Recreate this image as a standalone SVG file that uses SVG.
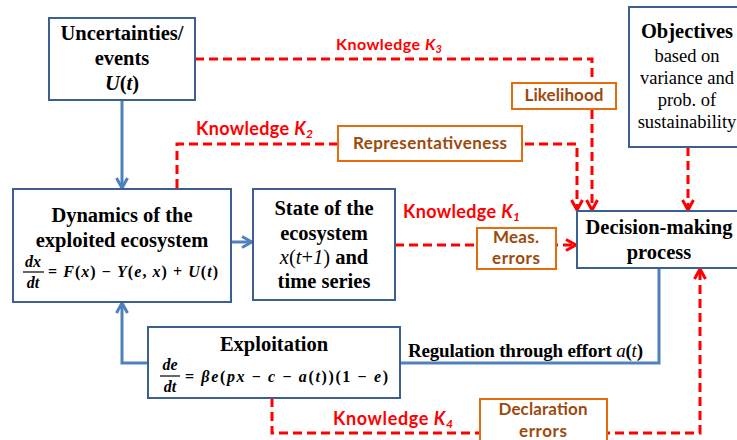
<svg xmlns="http://www.w3.org/2000/svg" width="737" height="440" viewBox="0 0 737 440">
<style>
.box{fill:#fff;stroke:#3B6090;stroke-width:2}
.obox{fill:#fff;stroke:#E46C0A;stroke-width:2}
.tb{font-family:'Liberation Serif','Times New Roman',serif;font-weight:bold;font-size:20.5px;fill:#000;text-anchor:middle}
.tr{font-family:'Liberation Serif','Times New Roman',serif;font-size:18.5px;fill:#000;text-anchor:middle}
.eq{font-family:'Liberation Serif','Times New Roman',serif;font-weight:bold;font-size:16px;fill:#000}
.reg{font-family:'Liberation Serif','Times New Roman',serif;font-weight:bold;font-size:19px;fill:#000}
.ot{font-family:Lato,'Liberation Sans',sans-serif;font-weight:bold;font-size:17px;fill:#9C4A0C;text-anchor:middle}
.kl{font-family:Lato,'Liberation Sans',sans-serif;font-weight:bold;font-size:18px;fill:#FF0000}
.kls{font-family:Lato,'Liberation Sans',sans-serif;font-weight:bold;font-size:16px;fill:#FF0000}
.blue{fill:none;stroke:#4F81BD;stroke-width:3}
.red{fill:none;stroke:#FF0000;stroke-width:3;stroke-dasharray:9 5}
.i{font-style:italic}
</style>
<defs>
<marker id="ab" viewBox="0 0 14 14" markerWidth="14" markerHeight="14" refX="12" refY="7" orient="auto" markerUnits="userSpaceOnUse">
<path d="M2,1.5 L12,7 L2,12.5" fill="none" stroke="#4F81BD" stroke-width="3"/>
</marker>
<marker id="ar" viewBox="0 0 14 14" markerWidth="14" markerHeight="14" refX="12" refY="7" orient="auto" markerUnits="userSpaceOnUse">
<path d="M2,1.5 L12,7 L2,12.5" fill="none" stroke="#FF0000" stroke-width="3"/>
</marker>
</defs>
<rect width="737" height="440" fill="#fff"/>
<g id="connectors">
<path class="blue" d="M122,100 V188" marker-end="url(#ab)"/>
<path class="blue" d="M231,242 H252" marker-end="url(#ab)"/>
<path class="blue" d="M148,363 H122 V303" marker-end="url(#ab)"/>
<path class="blue" d="M659,268 V363 H400"/>
<path class="red" d="M195,59 H592 V210" marker-end="url(#ar)"/>
<path class="red" d="M177,188 V144 H577 V210" marker-end="url(#ar)"/>
<path class="red" d="M688,147 V210" marker-end="url(#ar)"/>
<path class="red" d="M395,245 H576" marker-end="url(#ar)"/>
<path class="red" d="M272,398 V433 H700 V269" marker-end="url(#ar)"/>
<text class="kls" x="336" y="50" textLength="106">Knowledge <tspan class="i">K</tspan><tspan class="i" font-size="11" dy="3">3</tspan></text>
<text class="kl" x="196" y="135" textLength="117">Knowledge <tspan class="i">K</tspan><tspan class="i" font-size="12" dy="3">2</tspan></text>
<text class="kl" x="403" y="218" textLength="117">Knowledge <tspan class="i">K</tspan><tspan class="i" font-size="12" dy="3">1</tspan></text>
<text class="kl" x="333" y="425" textLength="120">Knowledge <tspan class="i">K</tspan><tspan class="i" font-size="12" dy="3">4</tspan></text>
<text class="reg" x="408" y="357" textLength="235">Regulation through effort <tspan class="i" font-weight="normal">a</tspan>(<tspan class="i" font-weight="normal">t</tspan>)</text>
</g>
<g id="uncertainties">
<rect class="box" x="49" y="18" width="146" height="82"/>
<text class="tb" x="122" y="40">Uncertainties/</text>
<text class="tb" x="122" y="65">events</text>
<text class="tb" x="122" y="90"><tspan class="i">U</tspan>(<tspan class="i">t</tspan>)</text>
</g>
<g id="dynamics">
<rect class="box" x="13" y="189" width="218" height="113"/>
<text class="tb" x="122" y="222">Dynamics of the</text>
<text class="tb" x="122" y="247">exploited ecosystem</text>
<text class="eq i" x="33" y="267" text-anchor="middle">dx</text>
<line x1="23" y1="272" x2="44" y2="272" stroke="#000" stroke-width="1.2"/>
<text class="eq i" x="33" y="288" text-anchor="middle">dt</text>
<text class="eq" x="48" y="277" textLength="170">= <tspan class="i">F</tspan>(<tspan class="i">x</tspan>) − <tspan class="i">Y</tspan>(<tspan class="i">e</tspan>, <tspan class="i">x</tspan>) + <tspan class="i">U</tspan>(<tspan class="i">t</tspan>)</text>
</g>
<g id="state">
<rect class="box" x="253" y="189" width="142" height="111"/>
<text class="tb" x="324" y="215">State of the</text>
<text class="tb" x="324" y="240">ecosystem</text>
<text class="tb" x="324" y="264"><tspan class="i" font-weight="normal">x</tspan><tspan font-weight="normal">(</tspan><tspan class="i" font-weight="normal">t</tspan><tspan font-weight="normal">+</tspan><tspan class="i" font-weight="normal">1</tspan><tspan font-weight="normal">)</tspan> and</text>
<text class="tb" x="324" y="288">time series</text>
</g>
<g id="decision">
<rect class="box" x="577" y="211" width="170" height="57"/>
<text class="tb" x="659" y="234">Decision-making</text>
<text class="tb" x="659" y="259">process</text>
</g>
<g id="objectives">
<rect class="box" x="629" y="7" width="118" height="140"/>
<text class="tb" x="687" y="38">Objectives</text>
<text class="tr" x="687" y="62">based on</text>
<text class="tr" x="687" y="84">variance and</text>
<text class="tr" x="687" y="106">prob. of</text>
<text class="tr" x="687" y="128">sustainability</text>
</g>
<g id="exploitation">
<rect class="box" x="148" y="327" width="252" height="71"/>
<text class="tb" x="274" y="351">Exploitation</text>
<text class="eq i" x="170" y="370" text-anchor="middle">de</text>
<line x1="160" y1="376" x2="180" y2="376" stroke="#000" stroke-width="1.2"/>
<text class="eq i" x="170" y="392" text-anchor="middle">dt</text>
<text class="eq" x="185" y="382" textLength="203">= <tspan class="i">βe</tspan>(<tspan class="i">px</tspan> − <tspan class="i">c</tspan> − <tspan class="i">a</tspan>(<tspan class="i">t</tspan>))(1 − <tspan class="i">e</tspan>)</text>
</g>
<g id="likelihood">
<rect class="obox" x="512" y="83" width="104" height="26"/>
<text class="ot" x="564" y="101" textLength="79">Likelihood</text>
</g>
<g id="representativeness">
<rect class="obox" x="338" y="126" width="184" height="35"/>
<text class="ot" x="430" y="149" textLength="154">Representativeness</text>
</g>
<g id="meas-errors">
<rect class="obox" x="477" y="228" width="79" height="41"/>
<text class="ot" x="516" y="243" textLength="46">Meas.</text>
<text class="ot" x="516" y="264" textLength="48">errors</text>
</g>
<g id="declaration-errors">
<rect class="obox" x="480" y="399" width="127" height="44"/>
<text class="ot" x="543" y="415" textLength="89">Declaration</text>
<text class="ot" x="543" y="437" textLength="48">errors</text>
</g>
</svg>
